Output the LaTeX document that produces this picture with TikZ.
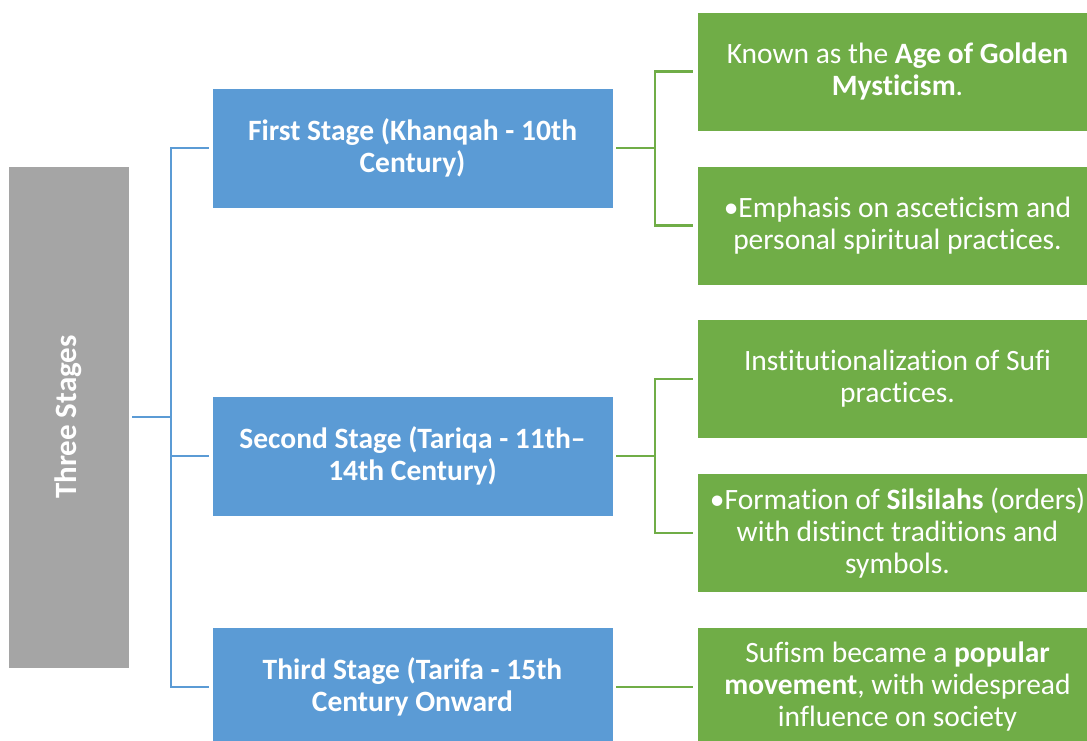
\documentclass[tikz,border=0pt]{standalone}
\usepackage{fontspec}
\setmainfont[Ligatures=NoCommon]{Carlito}
\definecolor{sblue}{HTML}{5B9BD5}
\definecolor{sgreen}{HTML}{70AD47}
\definecolor{sgray}{HTML}{A5A5A5}
\tikzset{
  box/.style={draw=white, line width=0.6pt, inner sep=0pt, align=center, text=white,
    font=\fontsize{29.5}{32}\selectfont},
  graybox/.style={box, fill=sgray, minimum width=121, minimum height=502},
  bluebox/.style={box, fill=sblue, minimum width=401, minimum height=120, font=\fontsize{29.5}{32}\selectfont\bfseries},
  greenbox/.style={box, fill=sgreen, minimum width=401, minimum height=119},
  bline/.style={draw=sblue, line width=2.5pt},
  gline/.style={draw=sgreen, line width=2.5pt}
}
\begin{document}
\begin{tikzpicture}[x=1pt,y=-1pt]
\useasboundingbox (0,0) rectangle (1087,740);
\clip (0,0) rectangle (1087,740);
\fill[white] (0,0) rectangle (1087,740);

\node[graybox] (g) at (68.5,417) {};
\node[rotate=90, text=white, font=\fontsize{31}{34}\selectfont\bfseries] (gt) at (g.center) {Three Stages};

\node[bluebox] (b1) at (412.5,148) {First Stage (Khanqah - 10th\\Century)};
\node[bluebox] (b2) at (412.5,456) {Second Stage (Tariqa - 11th--\\14th Century)};
\node[bluebox] (b3) at (412.5,687) {Third Stage (Tarifa - 15th\\Century Onward};

\node[greenbox] (r1) at (897.5,71.5) {Known as the \textbf{Age of Golden}\\\textbf{Mysticism}.};
\node[greenbox] (r2) at (897.5,225.5) {•Emphasis on asceticism and\\personal spiritual practices.};
\node[greenbox] (r3) at (897.5,379) {Institutionalization of Sufi\\practices.};
\node[greenbox] (r4) at (897.5,533) {•Formation of \textbf{Silsilahs} (orders)\\with distinct traditions and\\symbols.};
\node[greenbox] (r5) at (897.5,687) {Sufism became a \textbf{popular}\\\textbf{movement}, with widespread\\influence on society};

\coordinate (bx) at (171,0);
\coordinate (gx) at (655,0);

\draw[bline] ([xshift=3]g.east) -- (g.east -| bx);
\draw[bline] ([xshift=-3]b1.west) -- (b1.west -| bx) -- (b3.west -| bx) -- ([xshift=-3]b3.west);
\draw[bline] ([xshift=-3]b2.west) -- (b2.west -| bx);

\draw[gline] ([xshift=3]b1.east) -- (b1.east -| gx);
\draw[gline] ([xshift=-4]r1.west) -- (r1.west -| gx) -- (r2.west -| gx) -- ([xshift=-4]r2.west);
\draw[gline] ([xshift=3]b2.east) -- (b2.east -| gx);
\draw[gline] ([xshift=-4]r3.west) -- (r3.west -| gx) -- (r4.west -| gx) -- ([xshift=-4]r4.west);
\draw[gline] ([xshift=3]b3.east) -- ([xshift=-4]r5.west);
\end{tikzpicture}
\end{document}
